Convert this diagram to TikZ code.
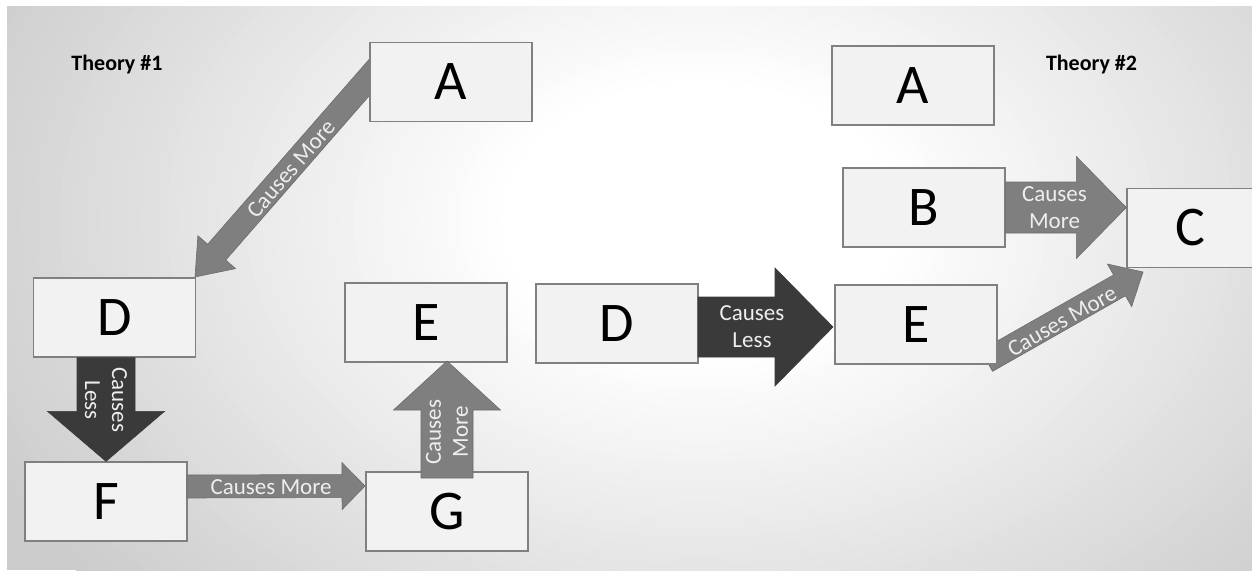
\documentclass[tikz,border=0pt]{standalone}
\usepackage{fontspec}
\setmainfont{Carlito}
\usetikzlibrary{calc}
\definecolor{bgout}{RGB}{204,204,204}
\definecolor{boxfill}{RGB}{242,242,242}
\definecolor{boxline}{RGB}{128,128,128}
\definecolor{arrgray}{RGB}{127,127,127}
\definecolor{arrgrayline}{RGB}{108,108,108}
\definecolor{arrdark}{RGB}{58,58,58}
\definecolor{lbltext}{RGB}{238,238,238}
\tikzset{
  box/.style={draw=boxline, fill=boxfill, line width=1.3pt, minimum width=162pt, minimum height=79pt, inner sep=0pt, font=\fontsize{56}{60}\selectfont},
  garr/.style={fill=arrgray, draw=arrgrayline, line width=0.6pt},
  darr/.style={fill=arrdark, draw=arrdark, line width=0.6pt},
  lbl/.style={text=lbltext, font=\fontsize{23}{27}\selectfont, align=center, inner sep=0pt},
  ttl/.style={font=\bfseries\fontsize{22}{26}\selectfont, inner sep=0pt, anchor=base},
}
\newcommand{\blockarr}[6]{%
  \coordinate (bah) at ($(#2)!#5pt!(#1)$);
  \filldraw[#6] ($(#1)!#3pt!90:(#2)$) -- ($(bah)!#3pt!90:(#2)$) -- ($(bah)!#4pt!90:(#2)$) -- (#2) -- ($(bah)!#4pt!-90:(#2)$) -- ($(bah)!#3pt!-90:(#2)$) -- ($(#1)!#3pt!-90:(#2)$) -- cycle;}
\begin{document}
\begin{tikzpicture}[x=1pt,y=-1pt]
\useasboundingbox (0,0) rectangle (1252,575);
\fill[white] (0,0) rectangle (1252,575);
\fill[bgout] (7,7) rectangle (1252,570);
\begin{scope}
  \clip (7,7) rectangle (1252,570);
  \foreach \i in {0,...,60}{
    \pgfmathsetmacro{\rr}{1-\i/60}
    \pgfmathsetmacro{\tt}{max(0,min(1,(\rr-0.25)/0.75))}
    \pgfmathsetmacro{\pw}{100*(1-\tt)}
    \fill[white!\pw!bgout] (700,220) ellipse [x radius=\rr*800pt, y radius=\rr*560pt];
  }
\end{scope}

% arrows whose tails are hidden behind boxes
\coordinate (ta1) at (380,65.2);
\coordinate (pa1) at (195,277);
\blockarr{ta1}{pa1}{12}{25}{33}{garr}
\coordinate (ta7) at (986.6,360.9);
\coordinate (pa7) at (1143,272);
\blockarr{ta7}{pa7}{12}{24.5}{27}{garr}

% boxes
\node[box] (A1) at (451,82) {A};
\node[box] (D1) at (114.5,317.5) {D};
\node[box] (F1) at (106,501.5) {F};
\node[box] (E1) at (426,322.5) {E};
\node[box] (G1) at (447,511.5) {G};
\node[box] (D2) at (617,323.5) {D};
\node[box] (E2) at (916,324.5) {E};
\node[box] (A2) at (913,85.5) {A};
\node[box] (B2) at (924,207.5) {B};
\node[box, minimum width=127pt] (C2) at (1190.5,228) {C};

% titles
\node[ttl] (th1) at (117,71) {Theory \#1};
\node[ttl] (th2) at (1091.5,71) {Theory \#2};

% remaining arrows
\coordinate (ta2) at (D1.south -| F1.north);
\blockarr{ta2}{F1.north}{29}{58.5}{50}{darr}
\coordinate (ta3) at (187,486.5);
\coordinate (pa3) at (365,486);
\blockarr{ta3}{pa3}{11.5}{23.5}{23}{garr}
\coordinate (ta4) at (447,478);
\coordinate (pa4) at (447,361);
\blockarr{ta4}{pa4}{26}{53.5}{49}{garr}
\coordinate (ta5) at (698,327);
\coordinate (pa5) at (833,327);
\blockarr{ta5}{pa5}{30}{59}{58}{darr}
\coordinate (pa6) at (C2.west |- B2.east);
\blockarr{B2.east}{pa6}{25.5}{51}{50}{garr}

% labels
\node[lbl, rotate=48.8] (l1) at (291,169) {Causes More};
\node[lbl, rotate=-90] (l2) at (106,400) {Causes\\Less};
\node[lbl] (l3) at (271,487) {Causes More};
\node[lbl, rotate=90] (l4) at (447,432) {Causes\\More};
\node[lbl] (l5) at (752,327) {Causes\\Less};
\node[lbl] (l6) at (1054.5,208) {Causes\\More};
\node[lbl, rotate=29.6] (l7) at (1062,321) {Causes More};
\end{tikzpicture}
\end{document}
